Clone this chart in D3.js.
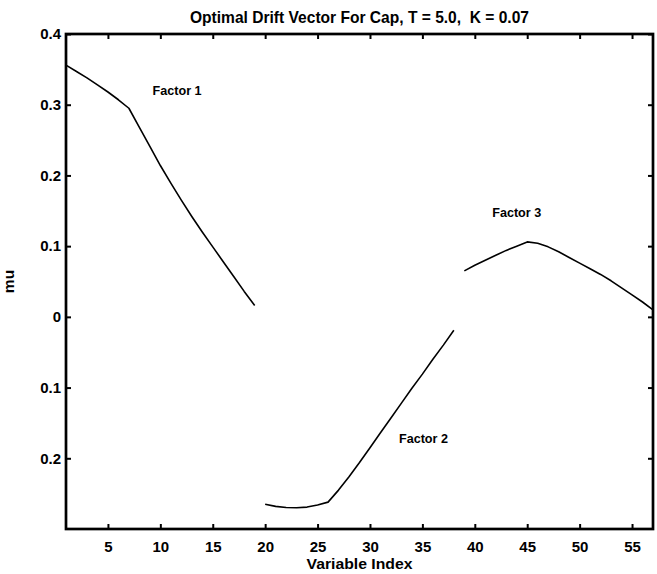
<!DOCTYPE html>
<html>
<head>
<meta charset="utf-8">
<script src="https://cdn.jsdelivr.net/npm/d3@7"></script>
<style>
  body { margin: 0; background: #fff; }
  svg { display: block; font-family: "Liberation Sans", Arial, Helvetica, sans-serif; font-weight: bold; }
</style>
</head>
<body>
<svg id="chart" width="657" height="574"></svg>
<script>
// Factor curves, index -> mu
const factor1X = d3.range(1, 20);
const factor1Y = [0.356, 0.347, 0.338, 0.328, 0.318, 0.307, 0.295, 0.268, 0.241, 0.214,
                  0.189, 0.165, 0.142, 0.120, 0.099, 0.078, 0.057, 0.036, 0.016];
const factor2X = d3.range(20, 39);
const factor2Y = [-0.265, -0.268, -0.2695, -0.270, -0.269, -0.266, -0.262, -0.245, -0.226, -0.206,
                  -0.185, -0.164, -0.143, -0.122, -0.101, -0.081, -0.060, -0.040, -0.019];
const factor3X = d3.range(39, 58);
const factor3Y = [0.065, 0.073, 0.080, 0.087, 0.094, 0.100, 0.106, 0.104, 0.099, 0.092,
                  0.084, 0.076, 0.068, 0.060, 0.051, 0.041, 0.031, 0.021, 0.010];

const labelNames = ["Factor 1", "Factor 2", "Factor 3"];
const labelX = [11.6, 35.1, 44.0];
const labelY = [0.32, -0.172, 0.148];

const xTicks = [5, 10, 15, 20, 25, 30, 35, 40, 45, 50, 55];
const yTicks = [-0.2, -0.1, 0, 0.1, 0.2, 0.3, 0.4];

const svg = d3.select("#chart");
const margin = {top: 34, right: 4, bottom: 45, left: 66},
    width = 657 - margin.left - margin.right,
    height = 574 - margin.top - margin.bottom;

const g = svg.append("g")
  .attr("transform", `translate(${margin.left},${margin.top})`);

const x = d3.scaleLinear().domain([1, 57]).range([0, width]);
const y = d3.scaleLinear().domain([-0.3, 0.4]).range([height, 0]);

// negative ticks are printed without the minus sign in the original
const yFmt = d => d === 0 ? "0" : Math.abs(d).toFixed(1);

// bottom axis
const xAxis = g.append("g")
  .attr("transform", `translate(0,${height})`)
  .call(d3.axisBottom(x).tickValues(xTicks).tickSizeInner(-5).tickSizeOuter(0).tickPadding(12));
// top axis
const xTop = g.append("g")
  .call(d3.axisTop(x).tickValues(xTicks).tickSizeInner(-5).tickSizeOuter(0).tickFormat(""));
// left axis
const yAxis = g.append("g")
  .call(d3.axisLeft(y).tickValues(yTicks).tickSizeInner(-5).tickSizeOuter(0).tickPadding(5).tickFormat(yFmt));
// right axis
const yRight = g.append("g")
  .attr("transform", `translate(${width},0)`)
  .call(d3.axisRight(y).tickValues(yTicks).tickSizeInner(-5).tickSizeOuter(0).tickFormat(""));

[xAxis, xTop, yAxis, yRight].forEach(a => {
  a.select(".domain").remove();
  a.selectAll(".tick line").attr("stroke", "#000").attr("stroke-width", 2);
  a.selectAll(".tick text")
    .attr("fill", "#000")
    .style("font-size", "15px")
    .style("font-weight", "bold")
    .style("font-family", "'Liberation Sans', Arial, sans-serif");
});

// frame
g.append("rect")
  .attr("x", 0).attr("y", 0)
  .attr("width", width).attr("height", height)
  .attr("fill", "none")
  .attr("stroke", "#000")
  .attr("stroke-width", 2.7);

// curves
const line = d3.line().x(d => x(d[0])).y(d => y(d[1]));
[[factor1X, factor1Y], [factor2X, factor2Y], [factor3X, factor3Y]].forEach(([xs, ys]) => {
  g.append("path")
    .datum(xs.map((v, i) => [v, ys[i]]))
    .attr("fill", "none")
    .attr("stroke", "#000")
    .attr("stroke-width", 1.6)
    .attr("stroke-linejoin", "round")
    .attr("d", line);
});

// factor labels
labelNames.forEach((name, i) => {
  g.append("text")
    .attr("x", x(labelX[i]))
    .attr("y", y(labelY[i]))
    .attr("dy", "0.35em")
    .attr("text-anchor", "middle")
    .style("font-size", "12.5px")
    .attr("textLength", 49)
    .attr("lengthAdjust", "spacingAndGlyphs")
    .text(name);
});

// title and axis labels
svg.append("text")
  .attr("x", 359.5).attr("y", 23)
  .attr("text-anchor", "middle")
  .style("font-size", "16.5px")
  .style("white-space", "pre")
  .attr("textLength", 339)
  .attr("lengthAdjust", "spacingAndGlyphs")
  .text("Optimal Drift Vector For Cap, T = 5.0,  K = 0.07");

svg.append("text")
  .attr("x", margin.left + width / 2).attr("y", 569)
  .attr("text-anchor", "middle")
  .style("font-size", "15.5px")
  .attr("textLength", 106)
  .attr("lengthAdjust", "spacingAndGlyphs")
  .text("Variable Index");

svg.append("text")
  .attr("transform", `translate(14,${margin.top + height / 2}) rotate(-90)`)
  .attr("text-anchor", "middle")
  .style("font-size", "15.5px")
  .text("mu");
</script>
</body>
</html>
